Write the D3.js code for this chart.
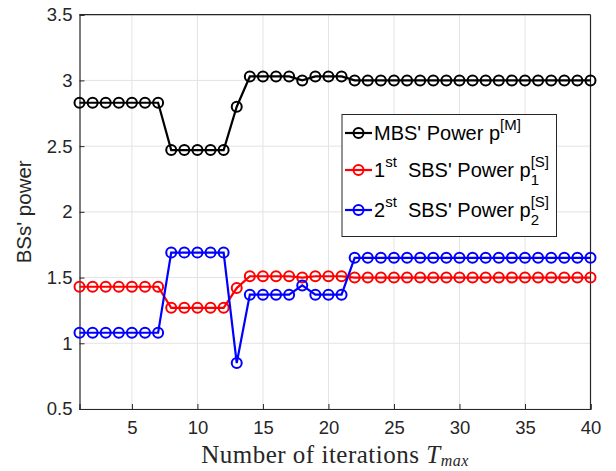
<!DOCTYPE html>
<html>
<head>
<meta charset="utf-8">
<script src="https://cdn.jsdelivr.net/npm/d3@7"></script>
<style>
  body { margin: 0; background: #fff; }
  svg { display: block; font-family: "Liberation Sans", Arial, sans-serif; }
</style>
</head>
<body>
<div id="vis"></div>
<script>
// values
const iterations = d3.range(1, 41);
const mbsPower = [2.83, 2.83, 2.83, 2.83, 2.83, 2.83, 2.83, 2.47, 2.47, 2.47,
  2.47, 2.47, 2.80, 3.03, 3.03, 3.03, 3.03, 3.00, 3.03, 3.03,
  3.03, 3.00, 3.00, 3.00, 3.00, 3.00, 3.00, 3.00, 3.00, 3.00,
  3.00, 3.00, 3.00, 3.00, 3.00, 3.00, 3.00, 3.00, 3.00, 3.00];
const sbs1Power = [1.43, 1.43, 1.43, 1.43, 1.43, 1.43, 1.43, 1.27, 1.27, 1.27,
  1.27, 1.27, 1.42, 1.51, 1.51, 1.51, 1.51, 1.50, 1.51, 1.51,
  1.51, 1.50, 1.50, 1.50, 1.50, 1.50, 1.50, 1.50, 1.50, 1.50,
  1.50, 1.50, 1.50, 1.50, 1.50, 1.50, 1.50, 1.50, 1.50, 1.50];
const sbs2Power = [1.08, 1.08, 1.08, 1.08, 1.08, 1.08, 1.08, 1.69, 1.69, 1.69,
  1.69, 1.69, 0.85, 1.37, 1.37, 1.37, 1.37, 1.44, 1.37, 1.37,
  1.37, 1.65, 1.65, 1.65, 1.65, 1.65, 1.65, 1.65, 1.65, 1.65,
  1.65, 1.65, 1.65, 1.65, 1.65, 1.65, 1.65, 1.65, 1.65, 1.65];
const xTicks = [5, 10, 15, 20, 25, 30, 35, 40];
const yTicks = [0.5, 1, 1.5, 2, 2.5, 3, 3.5];

const series = [
  { values: mbsPower, color: "#000000" },
  { values: sbs1Power, color: "#ff0000" },
  { values: sbs2Power, color: "#0000ff" },
];

const width = 616, height = 471;
const margin = { top: 14.7, right: 25.5, bottom: 62, left: 79.5 };

const svg = d3.select("#vis")
  .append("svg")
  .attr("width", width)
  .attr("height", height);

const x = d3.scaleLinear().domain([1, 40]).range([margin.left, width - margin.right]);
const y = d3.scaleLinear().domain([0.5, 3.5]).range([height - margin.bottom, margin.top]);

// grid
const grid = svg.append("g").attr("stroke", "#e3e3e3").attr("stroke-width", 1);
grid.selectAll(".gx").data(xTicks).enter().append("line")
  .attr("x1", d => x(d)).attr("x2", d => x(d))
  .attr("y1", y(0.5)).attr("y2", y(3.5));
grid.selectAll(".gy").data(yTicks).enter().append("line")
  .attr("x1", x(1)).attr("x2", x(40))
  .attr("y1", d => y(d)).attr("y2", d => y(d));

// axes
const xAxis = svg.append("g")
  .attr("transform", "translate(0," + y(0.5) + ")")
  .call(d3.axisBottom(x).tickValues(xTicks).tickSize(-5).tickPadding(12));
const yAxis = svg.append("g")
  .attr("transform", "translate(" + x(1) + ",0)")
  .call(d3.axisLeft(y).tickValues(yTicks).tickFormat(d => String(d)).tickSize(-5).tickPadding(7));
[xAxis, yAxis].forEach(a => {
  a.select(".domain").attr("stroke", "#262626").attr("stroke-width", 1.2);
  a.selectAll(".tick line").attr("stroke", "#262626");
  a.selectAll(".tick text").attr("fill", "#262626").style("font-size", "18.5px")
    .style("font-family", "'Liberation Sans', Arial, sans-serif");
});

// box top / right
svg.append("line").attr("x1", x(1)).attr("x2", x(40)).attr("y1", y(3.5)).attr("y2", y(3.5))
  .attr("stroke", "#262626").attr("stroke-width", 1.2);
svg.append("line").attr("x1", x(40)).attr("x2", x(40)).attr("y1", y(3.5)).attr("y2", y(0.5))
  .attr("stroke", "#262626").attr("stroke-width", 1.2);

// lines + markers
const line = d3.line().x((d, i) => x(iterations[i])).y(d => y(d));
series.forEach(s => {
  const g = svg.append("g");
  g.append("path").datum(s.values)
    .attr("fill", "none").attr("stroke", s.color).attr("stroke-width", 2.2)
    .attr("d", line);
  g.selectAll("circle").data(s.values).enter().append("circle")
    .attr("cx", (d, i) => x(iterations[i])).attr("cy", d => y(d))
    .attr("r", 5).attr("fill", "none").attr("stroke", s.color).attr("stroke-width", 2);
});

// axis labels
svg.append("text")
  .attr("transform", "translate(31," + ((y(0.5) + y(3.5)) / 2) + ") rotate(-90)")
  .attr("text-anchor", "middle")
  .style("font-size", "20.5px").attr("fill", "#262626")
  .text("BSs' power");

const xl = svg.append("text")
  .attr("x", 335).attr("y", 463)
  .attr("text-anchor", "middle")
  .style("font-family", "'Liberation Serif', 'DejaVu Serif', serif")
  .style("letter-spacing", "0.5px")
  .style("font-size", "25px").attr("fill", "#262626");
xl.append("tspan").text("Number of iterations ");
xl.append("tspan").style("font-style", "italic").text("T");
xl.append("tspan").style("font-style", "italic").style("font-size", "16px")
  .attr("dy", 3).text("max");

// legend
const legend = svg.append("g");
legend.append("rect")
  .attr("x", 342).attr("y", 114.5).attr("width", 214.5).attr("height", 122)
  .attr("fill", "#fff").attr("stroke", "#262626").attr("stroke-width", 1);

// parts: [text, baseline offset, font size, stacked under previous]
const rows = [
  { color: "#000000", y: 133, parts: [["MBS' Power p", 0, 20], ["[M]", -10, 15]] },
  { color: "#ff0000", y: 170, parts: [["1", 0, 20], ["st", -10, 15], ["\u00a0\u00a0SBS' Power p", 0, 20], ["[S]", -10, 15], ["1", 8, 15, true]] },
  { color: "#0000ff", y: 210, parts: [["2", 0, 20], ["st", -10, 15], ["\u00a0\u00a0SBS' Power p", 0, 20], ["[S]", -10, 15], ["2", 8, 15, true]] },
];
rows.forEach(r => {
  legend.append("line").attr("x1", 345).attr("x2", 372).attr("y1", r.y).attr("y2", r.y)
    .attr("stroke", r.color).attr("stroke-width", 2.2);
  legend.append("circle").attr("cx", 358.5).attr("cy", r.y).attr("r", 5)
    .attr("fill", "none").attr("stroke", r.color).attr("stroke-width", 2);
  let cursor = 374, prevStart = cursor;
  r.parts.forEach(p => {
    const start = p[3] ? prevStart : cursor;
    const t = legend.append("text")
      .attr("x", start).attr("y", r.y + 7 + p[1])
      .style("font-size", p[2] + "px").attr("fill", "#000")
      .text(p[0]);
    const w = t.node().getComputedTextLength();
    prevStart = start;
    cursor = Math.max(cursor, start + w);
  });
});
</script>
</body>
</html>
